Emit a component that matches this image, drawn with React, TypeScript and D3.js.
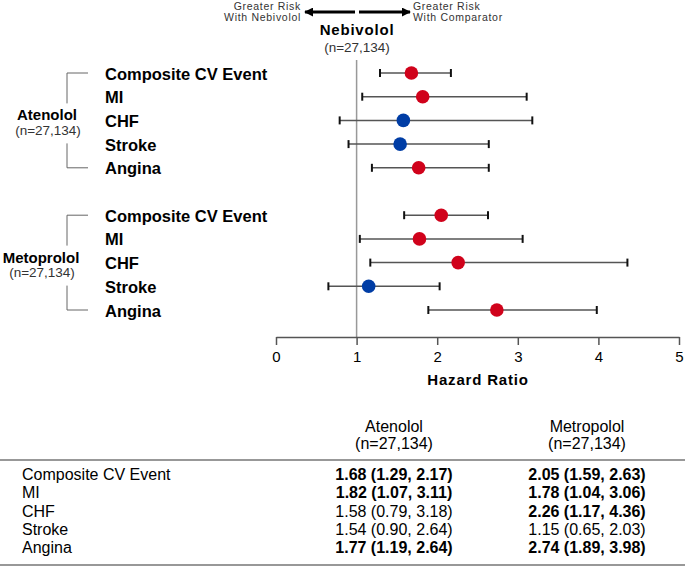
import { useEffect, useRef } from "react";
import * as d3 from "d3";

const outcomes = ["Composite CV Event", "MI", "CHF", "Stroke", "Angina"];

const atenololHR = [1.68, 1.82, 1.58, 1.54, 1.77];
const atenololLo = [1.29, 1.07, 0.79, 0.9, 1.19];
const atenololHi = [2.17, 3.11, 3.18, 2.64, 2.64];

const metoprololHR = [2.05, 1.78, 2.26, 1.15, 2.74];
const metoprololLo = [1.59, 1.04, 1.17, 0.65, 1.89];
const metoprololHi = [2.63, 3.06, 4.36, 2.03, 3.98];

const xTicks = [0, 1, 2, 3, 4, 5];
const tableColumns = ["Atenolol", "Metropolol"];

const FONT = "'Liberation Sans', Arial, sans-serif";

export default function App() {
  const ref = useRef<SVGSVGElement | null>(null);

  useEffect(() => {
    if (!ref.current) return;
    const svg = d3.select(ref.current);
    svg.selectAll("*").remove();
    svg.style("font-family", FONT);

    const x = d3.scaleLinear().domain([0, 5]).range([276, 679]);
    // row index: 0-4 atenolol, 6-10 metoprolol (5 is the gap)
    const y = d3.scaleLinear().domain([0, 10]).range([73, 310]);

    const groups = [
      { name: "Atenolol", hr: atenololHR, lo: atenololLo, hi: atenololHi, offset: 0, cx: 47 },
      { name: "Metoprolol", hr: metoprololHR, lo: metoprololLo, hi: metoprololHi, offset: 6, cx: 41 }
    ];

    // arrow marker
    const defs = svg.append("defs");
    defs.append("marker")
      .attr("id", "arrowHead")
      .attr("viewBox", "0 0 10 10")
      .attr("refX", 9)
      .attr("refY", 5)
      .attr("markerWidth", 3)
      .attr("markerHeight", 3)
      .attr("orient", "auto")
      .append("path")
      .attr("d", "M0,0 L10,5 L0,10 z")
      .attr("fill", "#000");

    // header
    const head = svg.append("g");
    head.append("line").attr("x1", 355).attr("x2", 305).attr("y1", 12).attr("y2", 12)
      .attr("stroke", "#000").attr("stroke-width", 3).attr("marker-end", "url(#arrowHead)");
    head.append("line").attr("x1", 359).attr("x2", 410).attr("y1", 12).attr("y2", 12)
      .attr("stroke", "#000").attr("stroke-width", 3).attr("marker-end", "url(#arrowHead)");
    [["Greater Risk", 10], ["With Nebivolol", 21]].forEach(([t, yy]) => {
      head.append("text").attr("x", 301).attr("y", +yy).attr("text-anchor", "end")
        .attr("font-size", 10.5).attr("letter-spacing", 0.7).attr("fill", "#333").text(t as string);
    });
    [["Greater Risk", 10], ["With Comparator", 21]].forEach(([t, yy]) => {
      head.append("text").attr("x", 413).attr("y", +yy)
        .attr("font-size", 10.5).attr("letter-spacing", 0.7).attr("fill", "#333").text(t as string);
    });
    head.append("text").attr("x", 357).attr("y", 35).attr("text-anchor", "middle")
      .attr("font-size", 15).attr("letter-spacing", 0.8).attr("font-weight", "bold").text("Nebivolol");
    head.append("text").attr("x", 357).attr("y", 52).attr("text-anchor", "middle")
      .attr("font-size", 13.5).attr("fill", "#333").text("(n=27,134)");

    // reference line at HR = 1
    svg.append("line")
      .attr("x1", x(1)).attr("x2", x(1))
      .attr("y1", 60).attr("y2", 337)
      .attr("stroke", "#999").attr("stroke-width", 1.5);

    // x axis
    const axis = svg.append("g")
      .attr("transform", "translate(0,337)")
      .call(d3.axisBottom(x).tickValues(xTicks).tickSize(8).tickSizeOuter(0).tickFormat(d3.format("d")));
    axis.select(".domain").attr("stroke", "#555").attr("stroke-width", 1.5);
    axis.selectAll(".tick line").attr("stroke", "#555").attr("stroke-width", 1.5);
    axis.selectAll("text")
      .attr("dy", null)
      .attr("y", 25)
      .style("font-family", FONT)
      .style("font-size", "15px")
      .attr("fill", "#000");

    svg.append("text")
      .attr("x", 478).attr("y", 385).attr("text-anchor", "middle")
      .attr("font-size", 15).attr("letter-spacing", 0.8).attr("font-weight", "bold")
      .text("Hazard Ratio");

    groups.forEach(g => {
      const rows = outcomes.map((o, i) => ({
        o, hr: g.hr[i], lo: g.lo[i], hi: g.hi[i], yy: y(i + g.offset)
      }));

      // outcome labels
      svg.selectAll(null).data(rows).enter().append("text")
        .attr("x", 105).attr("y", d => d.yy + 6.5)
        .attr("font-size", 16.5).attr("font-weight", "bold")
        .text(d => d.o);

      // bracket
      const top = rows[0].yy, bot = rows[4].yy, mid = (top + bot) / 2;
      const bx = 67;
      const br = svg.append("g").attr("stroke", "#666").attr("stroke-width", 1).attr("fill", "none");
      br.append("path").attr("d", `M${bx + 21},${top} H${bx} V${mid - 17}`);
      br.append("path").attr("d", `M${bx + 21},${bot} H${bx} V${mid + 23}`);
      svg.append("text").attr("x", g.cx).attr("y", mid)
        .attr("text-anchor", "middle")
        .attr("font-size", 15).attr("font-weight", "bold").text(g.name);
      svg.append("text").attr("x", g.cx + 1).attr("y", mid + 14.5).attr("text-anchor", "middle")
        .attr("font-size", 13.5).attr("fill", "#333").text("(n=27,134)");

      // CI lines
      svg.selectAll(null).data(rows).enter().append("line")
        .attr("x1", d => x(d.lo)).attr("x2", d => x(d.hi))
        .attr("y1", d => d.yy).attr("y2", d => d.yy)
        .attr("stroke", "#555").attr("stroke-width", 1.5);
      ["lo", "hi"].forEach(k => {
        svg.selectAll(null).data(rows).enter().append("line")
          .attr("x1", d => x((d as any)[k])).attr("x2", d => x((d as any)[k]))
          .attr("y1", d => d.yy - 4).attr("y2", d => d.yy + 4)
          .attr("stroke", "#111").attr("stroke-width", 2);
      });

      // points
      svg.selectAll(null).data(rows).enter().append("circle")
        .attr("cx", d => x(d.hr)).attr("cy", d => d.yy).attr("r", 6.8)
        .attr("fill", d => (d.lo > 1 ? "#d0021b" : "#003da5"));
    });

    // table
    const tbl = svg.append("g").attr("font-size", 16);
    const colX = [394, 587];
    tableColumns.forEach((c, i) => {
      tbl.append("text").attr("x", colX[i]).attr("y", 432).attr("text-anchor", "middle").text(c);
      tbl.append("text").attr("x", colX[i]).attr("y", 449).attr("text-anchor", "middle").text("(n=27,134)");
    });
    tbl.append("line").attr("x1", 0).attr("x2", 685).attr("y1", 460).attr("y2", 460)
      .attr("stroke", "#333").attr("stroke-width", 1.2);
    tbl.append("line").attr("x1", 0).attr("x2", 685).attr("y1", 565).attr("y2", 565)
      .attr("stroke", "#333").attr("stroke-width", 1.2);

    const rowY = d3.scaleLinear().domain([0, 4]).range([480, 553]);
    const fmt = d3.format(".2f");
    outcomes.forEach((o, i) => {
      tbl.append("text").attr("x", 22).attr("y", rowY(i)).text(o);
      groups.forEach((g, j) => {
        tbl.append("text")
          .attr("x", colX[j]).attr("y", rowY(i)).attr("text-anchor", "middle")
          .attr("font-weight", g.lo[i] > 1 ? "bold" : "normal")
          .text(`${fmt(g.hr[i])} (${fmt(g.lo[i])}, ${fmt(g.hi[i])})`);
      });
    });
  }, []);

  return (
    <svg
      ref={ref}
      width={685}
      height={567}
      style={{ position: "absolute", left: 0, top: 0, background: "#fff" }}
    />
  );
}
